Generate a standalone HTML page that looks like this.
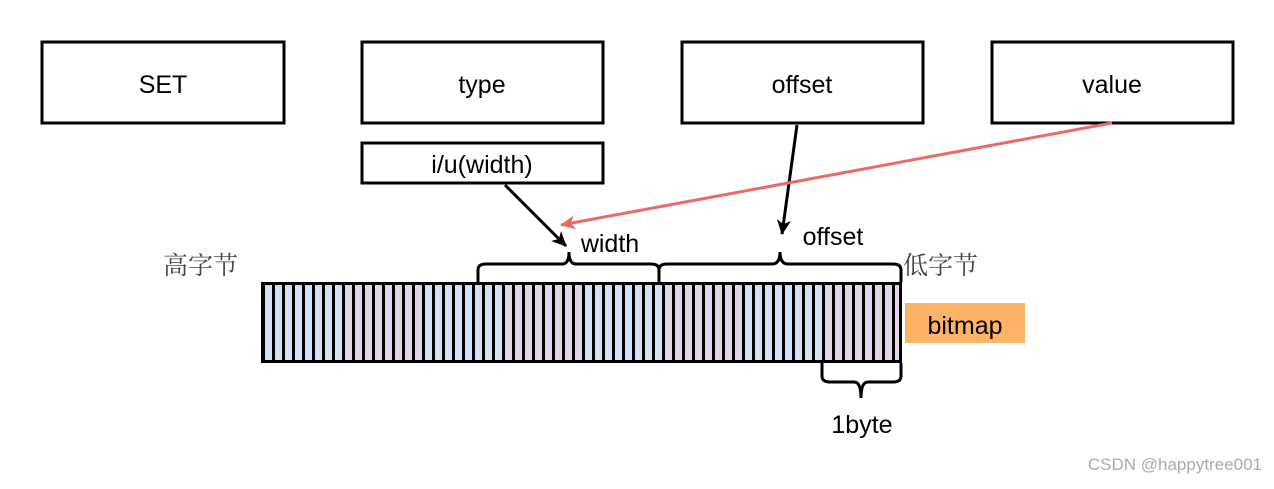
<!DOCTYPE html><html><head><style>body{margin:0;background:#fff}</style></head><body>
<svg width="1274" height="484" xmlns="http://www.w3.org/2000/svg" font-family="Liberation Sans, sans-serif">
<defs>
<marker id="ab" markerWidth="16" markerHeight="16" refX="14" refY="8" orient="auto" markerUnits="userSpaceOnUse"><path d="M0,1 L15,8 L0,15 L4,8z" fill="#000"/></marker>
<marker id="ar" markerWidth="16" markerHeight="16" refX="14" refY="8" orient="auto" markerUnits="userSpaceOnUse"><path d="M0,1 L15,8 L0,15 L4,8z" fill="#ea6b66"/></marker>
</defs>
<g fill="#fff" stroke="#000" stroke-width="3">
<rect x="42" y="42" width="242" height="81"/><rect x="362" y="42" width="241" height="81"/>
<rect x="682" y="42" width="241" height="81"/><rect x="992" y="42" width="241" height="81"/>
<rect x="362" y="143" width="241" height="40"/>
</g>
<g font-size="25" text-anchor="middle" fill="#000">
<text x="163" y="93">SET</text><text x="482" y="93">type</text><text x="802" y="93">offset</text><text x="1112" y="93">value</text>
<text x="482" y="173">i/u(width)</text>
<text x="610" y="252">width</text><text x="833" y="245">offset</text><text x="862" y="433">1byte</text>
</g>
<g font-size="25" fill="#444" font-family="Noto Serif CJK SC, serif"><text x="163" y="274">高字节</text><text x="903" y="274">低字节</text></g>
<rect x="905" y="303" width="120" height="40" fill="#ffb366"/>
<text x="965" y="334" font-size="25" text-anchor="middle">bitmap</text>
<rect x="262" y="282" width="640" height="81" fill="#000"/>
<g id="cells"></g>
<rect x="262.5" y="283.5" width="638" height="78" fill="none" stroke="#000" stroke-width="3"/>
<g stroke="#000" stroke-width="3" fill="none">
<path d="M478,282 V270 Q478,264 486,264 H562 Q569,264 569,252 Q569,264 576,264 H651 Q659,264 659,270 V282"/>
<path d="M659,282 V270 Q659,264 667,264 H772 Q780,264 780,252 Q780,264 788,264 H893 Q901,264 901,270 V282"/>
<path d="M822,363 V376 Q822,382 830,382 H854 Q861,382 861,398 Q861,382 868,382 H893 Q901,382 901,376 V363"/>
<line x1="505" y1="185" x2="566" y2="246" marker-end="url(#ab)"/>
<line x1="797" y1="125" x2="782" y2="234" marker-end="url(#ab)"/>
</g>
<line x1="1112" y1="123" x2="561" y2="225" stroke="#ea6b66" stroke-width="3" marker-end="url(#ar)"/>
<text x="1262" y="470" font-size="17" fill="#aaa" text-anchor="end">CSDN @happytree001</text>
</svg>
<script>
var g=document.getElementById('cells'),s='';
for(var i=0;i<64;i++){var b=Math.floor(i/8);var c=b%2?'#e1d5e7':'#d4e1f5';s+='<rect x="'+(265+i*10)+'" y="285" width="7" height="75" fill="'+c+'"/>';}
g.innerHTML=s;
</script>
</body></html>
